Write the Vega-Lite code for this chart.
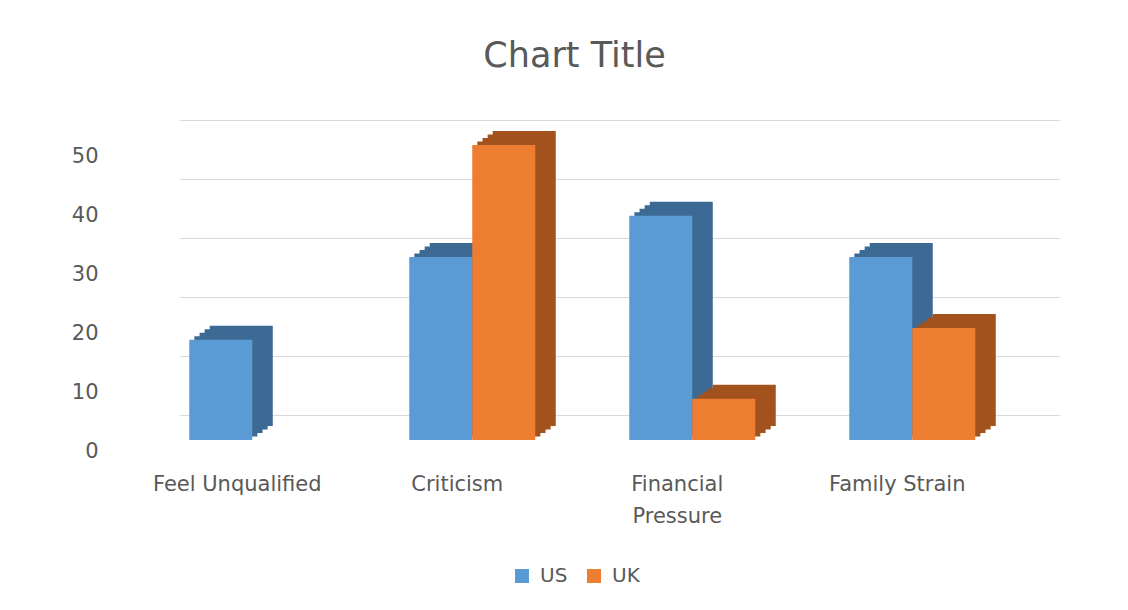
{
  "$schema": "https://vega.github.io/schema/vega-lite/v6.json",
  "width": 881,
  "height": 295,
  "autosize": {"type": "none"},
  "padding": {"left": 179, "top": 120, "right": 68, "bottom": 195},
  "background": "white",
  "config": {"view": {"stroke": null}},
  "title": {"text": "Chart Title", "font": "DejaVu Sans", "fontSize": 35, "fontWeight": "normal", "color": "#595959", "anchor": "middle", "dx": -45, "offset": 46},
  "data": {"values": [
    {"category": "Feel Unqualified", "series": "US", "value": 17},
    {"category": "Feel Unqualified", "series": "UK", "value": 0},
    {"category": "Criticism", "series": "US", "value": 31},
    {"category": "Criticism", "series": "UK", "value": 50},
    {"category": "Financial Pressure", "series": "US", "value": 38},
    {"category": "Financial Pressure", "series": "UK", "value": 7},
    {"category": "Family Strain", "series": "US", "value": 31},
    {"category": "Family Strain", "series": "UK", "value": 19}
  ]},
  "encoding": {
    "x": {
      "field": "category", "type": "nominal",
      "sort": ["Feel Unqualified", "Criticism", "Financial Pressure", "Family Strain"],
      "scale": {"paddingInner": 0.4273, "paddingOuter": 0.2159, "align": 0.108},
      "axis": {"title": null, "domain": false, "ticks": false, "labelAngle": 0, "labelPadding": 58, "labelOffset": -15, "labelFont": "DejaVu Sans", "labelFontSize": 21, "labelColor": "#595959", "labelLineHeight": 32, "labelLimit": 300, "labelOverlap": false,
        "labelExpr": "datum.label == 'Financial Pressure' ? ['Financial', 'Pressure'] : datum.label"}
    },
    "y": {
      "field": "value", "type": "quantitative",
      "scale": {"domain": [0, 50], "nice": false},
      "axis": {"title": null, "domain": false, "ticks": false, "values": [0, 10, 20, 30, 40, 50], "labelOverlap": false, "labelPadding": 81, "labelOffset": 36, "labelFont": "DejaVu Sans", "labelFontSize": 21, "labelColor": "#595959", "gridColor": "#d9d9d9", "gridWidth": 1}
    },
    "color": {"field": "series", "type": "nominal", "scale": {"domain": ["US", "UK"], "range": ["#3D6A94", "#A2521D"]}, "legend": null}
  },
  "layer": [
    {
      "mark": {"type": "bar", "yOffset": 11, "y2Offset": 11},
      "encoding": {"xOffset": {"field": "series", "type": "nominal", "sort": ["US", "UK"], "scale": {"range": [20.5, 146.5], "paddingInner": 0, "paddingOuter": 0}}}
    },
    {
      "mark": {"type": "bar", "yOffset": 14.5, "y2Offset": 14.5},
      "encoding": {"xOffset": {"field": "series", "type": "nominal", "sort": ["US", "UK"], "scale": {"range": [15.4, 141.4], "paddingInner": 0, "paddingOuter": 0}}}
    },
    {
      "mark": {"type": "bar", "yOffset": 18, "y2Offset": 18},
      "encoding": {"xOffset": {"field": "series", "type": "nominal", "sort": ["US", "UK"], "scale": {"range": [10.3, 136.3], "paddingInner": 0, "paddingOuter": 0}}}
    },
    {
      "mark": {"type": "bar", "yOffset": 21.5, "y2Offset": 21.5},
      "encoding": {"xOffset": {"field": "series", "type": "nominal", "sort": ["US", "UK"], "scale": {"range": [5.1, 131.1], "paddingInner": 0, "paddingOuter": 0}}}
    },
    {
      "mark": {"type": "bar", "yOffset": 25, "y2Offset": 25},
      "encoding": {
        "xOffset": {"field": "series", "type": "nominal", "sort": ["US", "UK"], "scale": {"paddingInner": 0, "paddingOuter": 0}},
        "color": {"field": "series", "type": "nominal", "scale": {"domain": ["US", "UK"], "range": ["#5B9BD5", "#ED7D31"]},
        "legend": {"title": null, "orient": "none", "legendX": 333, "legendY": 446, "direction": "horizontal", "symbolType": "square", "symbolSize": 196, "symbolStrokeWidth": 0, "labelFont": "DejaVu Sans", "labelFontSize": 20, "labelColor": "#595959", "labelOffset": 8, "columnPadding": 16}}
      }
    }
  ],
  "resolve": {"scale": {"color": "independent", "xOffset": "independent"}}
}
